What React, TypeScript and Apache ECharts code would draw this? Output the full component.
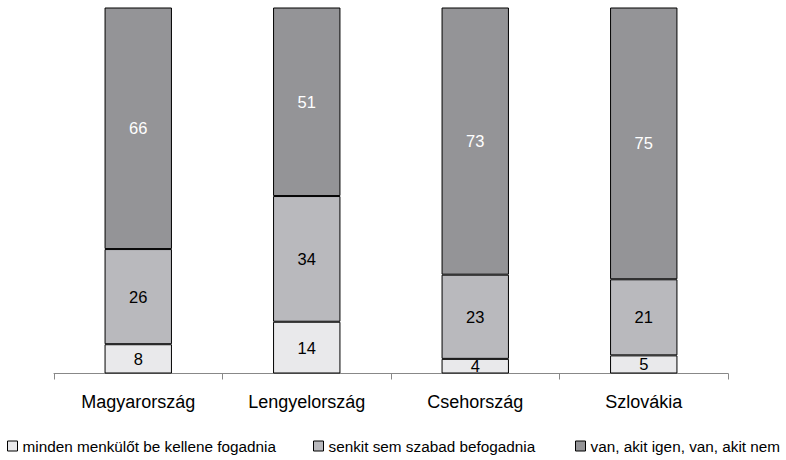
import React, { useEffect, useRef } from "react";
import * as echarts from "echarts";

const categories = ["Magyarország", "Lengyelország", "Csehország", "Szlovákia"];
const seriesNames = [
  "minden menkülőt be kellene fogadnia",
  "senkit sem szabad befogadnia",
  "van, akit igen, van, akit nem",
];
const bottomValues = [8, 14, 4, 5];
const middleValues = [26, 34, 23, 21];
const topValues = [66, 51, 73, 75];

const colors = ["#e9e9eb", "#b9b9bd", "#949497"];
const labelColors = ["#000000", "#000000", "#ffffff"];

export default function App() {
  const ref = useRef<HTMLDivElement>(null);
  useEffect(() => {
    if (!ref.current) return;
    const chart = echarts.init(ref.current, null, { renderer: "svg" });
    const all = [bottomValues, middleValues, topValues];
    const totals = categories.map((_, i) => all.reduce((s, a) => s + a[i], 0));
    const series = all.map((vals, si) => ({
      name: seriesNames[si],
      type: "bar",
      stack: "total",
      barWidth: "40%",
      data: vals.map((v, i) => ({ value: (v / totals[i]) * 100, raw: v })),
      itemStyle: { color: colors[si], borderColor: "#000", borderWidth: 1 },
      label: {
        show: true,
        position: "inside",
        color: labelColors[si],
        fontSize: 16.5,
        fontFamily: "Liberation Sans, Arial, sans-serif",
        formatter: (p: any) => String(p.data.raw),
      },
    }));
    const legendLefts = [7, 313, 575];
    chart.setOption({
      animation: false,
      grid: { left: 54, right: 58, top: 7.5, bottom: 86.5 },
      xAxis: {
        type: "category",
        data: categories,
        axisLine: { lineStyle: { color: "#888", width: 1 } },
        axisTick: { show: true, length: 6, lineStyle: { color: "#888" } },
        axisLabel: {
          color: "#000",
          fontSize: 18,
          margin: 19,
          fontFamily: "Liberation Sans, Arial, sans-serif",
        },
      },
      yAxis: {
        type: "value",
        min: 0,
        max: 100,
        show: false,
        splitLine: { show: false },
      },
      legend: seriesNames.map((n, i) => ({
        data: [n],
        left: legendLefts[i],
        top: 436,
        padding: 0,
        itemWidth: 10,
        itemHeight: 10,
        itemGap: 6,
        icon: "rect",
        itemStyle: { borderColor: "#000", borderWidth: 1 },
        textStyle: {
          color: "#000",
          fontSize: 15.3,
          lineHeight: 20,
          fontFamily: "Liberation Sans, Arial, sans-serif",
        },
      })),
      series,
    });
    return () => chart.dispose();
  }, []);
  return <div ref={ref} style={{ width: 786, height: 460, position: "absolute", left: 0, top: 0 }} />;
}
